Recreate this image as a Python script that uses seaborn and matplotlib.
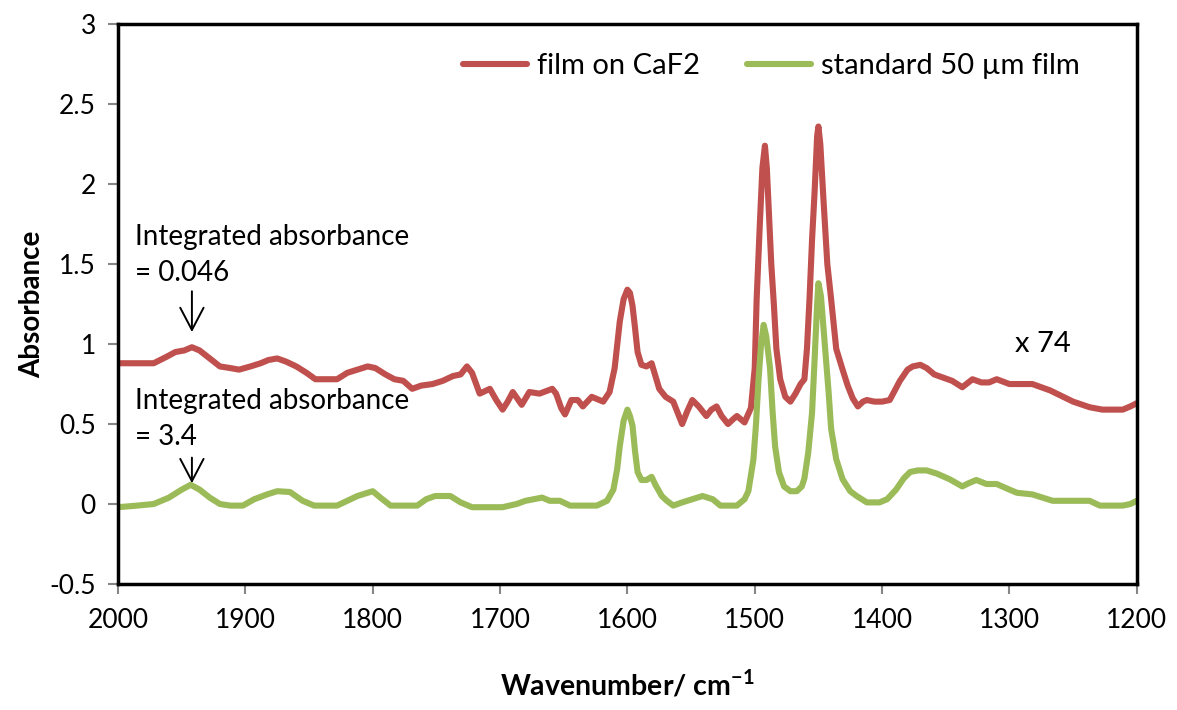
import numpy as np
import pandas as pd
import matplotlib
matplotlib.use("Agg")
import matplotlib.pyplot as plt
import seaborn as sns

# ---- data ----
wn_film = [2000, 1985, 1972, 1962, 1955, 1948, 1942, 1936, 1928, 1920, 1912, 1905, 1896, 1888,
           1882, 1875, 1868, 1860, 1852, 1845, 1836, 1828, 1820, 1812, 1804, 1798, 1790, 1783,
           1776, 1769, 1762, 1753, 1745, 1737, 1731, 1726, 1722, 1716, 1708, 1703, 1698, 1694,
           1690, 1683, 1677, 1669, 1659, 1656, 1652, 1649, 1644, 1639, 1635, 1628, 1619, 1614,
           1610, 1606, 1603, 1600, 1598, 1596, 1594, 1592, 1589, 1585, 1581, 1578, 1575, 1570,
           1564, 1560, 1557, 1553, 1549, 1544, 1538, 1534, 1530, 1526, 1521, 1517, 1514, 1508,
           1503, 1500, 1498.5, 1496, 1494, 1492, 1490.5, 1489, 1487, 1485, 1483, 1480, 1476,
           1472, 1468, 1464, 1461, 1459, 1457, 1455, 1453, 1451, 1450, 1448.5, 1446, 1443, 1440,
           1436, 1431, 1427, 1423, 1419, 1415, 1412, 1406, 1400, 1394, 1386, 1380, 1376, 1370,
           1365, 1359, 1352, 1345, 1337, 1329, 1322, 1316, 1310, 1300, 1282, 1268, 1250, 1237,
           1227, 1211, 1205, 1200]
abs_film = [0.88, 0.88, 0.88, 0.92, 0.95, 0.96, 0.98, 0.96, 0.91, 0.86, 0.85, 0.84, 0.86, 0.88,
            0.90, 0.91, 0.89, 0.86, 0.82, 0.78, 0.78, 0.78, 0.82, 0.84, 0.86, 0.85, 0.81, 0.78,
            0.77, 0.72, 0.74, 0.75, 0.77, 0.80, 0.81, 0.86, 0.82, 0.69, 0.72, 0.65, 0.59, 0.64,
            0.70, 0.62, 0.70, 0.69, 0.72, 0.69, 0.60, 0.56, 0.65, 0.65, 0.61, 0.67, 0.64, 0.70,
            0.85, 1.14, 1.28, 1.34, 1.32, 1.24, 1.10, 0.95, 0.87, 0.86, 0.88, 0.80, 0.72, 0.67,
            0.64, 0.56, 0.50, 0.58, 0.65, 0.61, 0.55, 0.59, 0.61, 0.55, 0.50, 0.53, 0.55, 0.51,
            0.60, 0.85, 1.28, 1.75, 2.10, 2.24, 2.10, 1.85, 1.50, 1.25, 0.97, 0.78, 0.67,
            0.64, 0.69, 0.75, 0.78, 0.97, 1.28, 1.65, 1.95, 2.30, 2.36, 2.25, 1.90, 1.50, 1.28,
            0.97, 0.84, 0.74, 0.66, 0.61, 0.64, 0.65, 0.64, 0.64, 0.65, 0.77, 0.84, 0.86, 0.87,
            0.85, 0.81, 0.79, 0.77, 0.73, 0.78, 0.76, 0.76, 0.78, 0.75, 0.75, 0.71, 0.64, 0.605,
            0.59, 0.59, 0.61, 0.63]

wn_std = [2000, 1985, 1972, 1960, 1950, 1943, 1936, 1928, 1920, 1912, 1902, 1893, 1883, 1875,
          1865, 1855, 1846, 1828, 1820, 1812, 1804, 1800, 1794, 1786, 1765, 1758, 1751, 1739,
          1731, 1722, 1698, 1687, 1680, 1667, 1661, 1653, 1645, 1624, 1616, 1611, 1608, 1606,
          1603, 1600, 1598, 1596, 1594, 1592, 1589, 1585, 1581, 1578, 1573, 1569, 1564, 1557,
          1549, 1541, 1533, 1527, 1514, 1508, 1505, 1501, 1499, 1497, 1495, 1493, 1491, 1488,
          1486, 1484, 1481, 1477, 1472, 1467, 1463, 1461, 1458, 1455, 1453, 1451, 1450, 1448,
          1445, 1442, 1440, 1436, 1431, 1425, 1420, 1412, 1402, 1396, 1389, 1383, 1378, 1372,
          1365, 1357, 1347, 1337, 1332, 1326, 1318, 1310, 1300, 1294, 1282, 1266, 1237, 1229,
          1211, 1205, 1200]
abs_std = [-0.02, -0.01, 0.00, 0.04, 0.09, 0.12, 0.09, 0.04, 0.00, -0.01, -0.01, 0.03, 0.06, 0.08,
           0.075, 0.02, -0.01, -0.01, 0.02, 0.05, 0.07, 0.08, 0.04, -0.01, -0.01, 0.03, 0.05, 0.05,
           0.01, -0.02, -0.02, 0.00, 0.02, 0.04, 0.02, 0.02, -0.01, -0.01, 0.02, 0.09, 0.22, 0.36,
           0.52, 0.59, 0.55, 0.49, 0.33, 0.20, 0.15, 0.15, 0.17, 0.12, 0.05, 0.02, -0.01, 0.01,
           0.03, 0.05, 0.03, -0.01, -0.01, 0.03, 0.08, 0.28, 0.50, 0.78, 1.00, 1.12, 1.05, 0.85,
           0.58, 0.36, 0.20, 0.11, 0.08, 0.08, 0.11, 0.16, 0.32, 0.57, 0.90, 1.25, 1.38, 1.30,
           1.00, 0.70, 0.47, 0.28, 0.155, 0.08, 0.05, 0.01, 0.01, 0.03, 0.09, 0.16, 0.20, 0.21,
           0.21, 0.19, 0.155, 0.11, 0.13, 0.15, 0.125, 0.125, 0.09, 0.07, 0.06, 0.02, 0.02, -0.01,
           -0.01, 0.00, 0.02]

series_names = ["film on CaF2", "standard 50 µm film"]
series_colors = ["#C0504D", "#9BBB59"]
x_ticks = [2000, 1900, 1800, 1700, 1600, 1500, 1400, 1300, 1200]
y_ticks = [-0.5, 0, 0.5, 1, 1.5, 2, 2.5, 3]
y_tick_labels = ["-0.5", "0", "0.5", "1", "1.5", "2", "2.5", "3"]

# ---- style ----
sns.set_theme(style="white")
FONT = ["Lato", "DejaVu Sans"]
plt.rcParams["font.family"] = FONT
plt.rcParams["text.color"] = "black"
plt.rcParams["axes.labelcolor"] = "black"
plt.rcParams["axes.unicode_minus"] = False
plt.rcParams["mathtext.fontset"] = "custom"
plt.rcParams["mathtext.rm"] = "Lato"
plt.rcParams["mathtext.bf"] = "Lato:bold"

df = pd.concat([
    pd.DataFrame({"Wavenumber": wn_film, "Absorbance": abs_film, "series": series_names[0]}),
    pd.DataFrame({"Wavenumber": wn_std, "Absorbance": abs_std, "series": series_names[1]}),
], ignore_index=True)

fig = plt.figure(figsize=(11.77, 7.10), dpi=100)
ax = fig.add_axes([0.1003, 0.1775, 0.8655, 0.7885])

LW = 4.4
sns.lineplot(data=df, x="Wavenumber", y="Absorbance", hue="series",
             palette=dict(zip(series_names, series_colors)), linewidth=LW,
             estimator=None, ax=ax, legend=True)

ax.set_xlim(2000, 1200)
ax.set_ylim(-0.5, 3)
ax.set_xticks(x_ticks)
ax.set_xticklabels([str(t) for t in x_ticks])
ax.set_yticks(y_ticks)
ax.set_yticklabels(y_tick_labels)
ax.tick_params(axis="both", which="major", labelsize=19, length=7, width=1.5,
               color="#868686", direction="out", bottom=True, left=True, labelcolor="black")
ax.tick_params(axis="x", pad=10)
ax.tick_params(axis="y", pad=9)

for s in ax.spines.values():
    s.set_visible(True)
    s.set_color("black")
    s.set_linewidth(2.5)

ax.set_xlabel(r"Wavenumber/ cm$^{\mathbf{-1}}$", fontsize=20.5, fontweight="bold", labelpad=26)
ax.set_ylabel("Absorbance", fontsize=20, fontweight="bold", labelpad=3)

leg = ax.legend(loc="upper right", bbox_to_anchor=(0.970, 0.995), ncol=2, frameon=False,
                fontsize=21, handlelength=2.2, columnspacing=1.6, handletextpad=0.35)
for h in leg.get_lines():
    h.set_linewidth(LW)

# annotations
arrow_style = dict(arrowstyle="->,head_length=0.8,head_width=0.42", color="black", lw=1.4,
                   mutation_scale=20, shrinkA=0, shrinkB=0)
ax.text(1987, 1.556, "Integrated absorbance\n= 0.046", fontsize=20, ha="left", va="center",
        linespacing=1.45)
ax.annotate("", xy=(1942, 1.075), xytext=(1942, 1.33), arrowprops=arrow_style)
ax.text(1987, 0.53, "Integrated absorbance\n= 3.4", fontsize=20, ha="left", va="center",
        linespacing=1.45)
ax.annotate("", xy=(1942, 0.13), xytext=(1942, 0.29), arrowprops=arrow_style)
ax.text(1296, 1.0, "x 74", fontsize=21, ha="left", va="center")

fig.savefig("out.png", dpi=100)
